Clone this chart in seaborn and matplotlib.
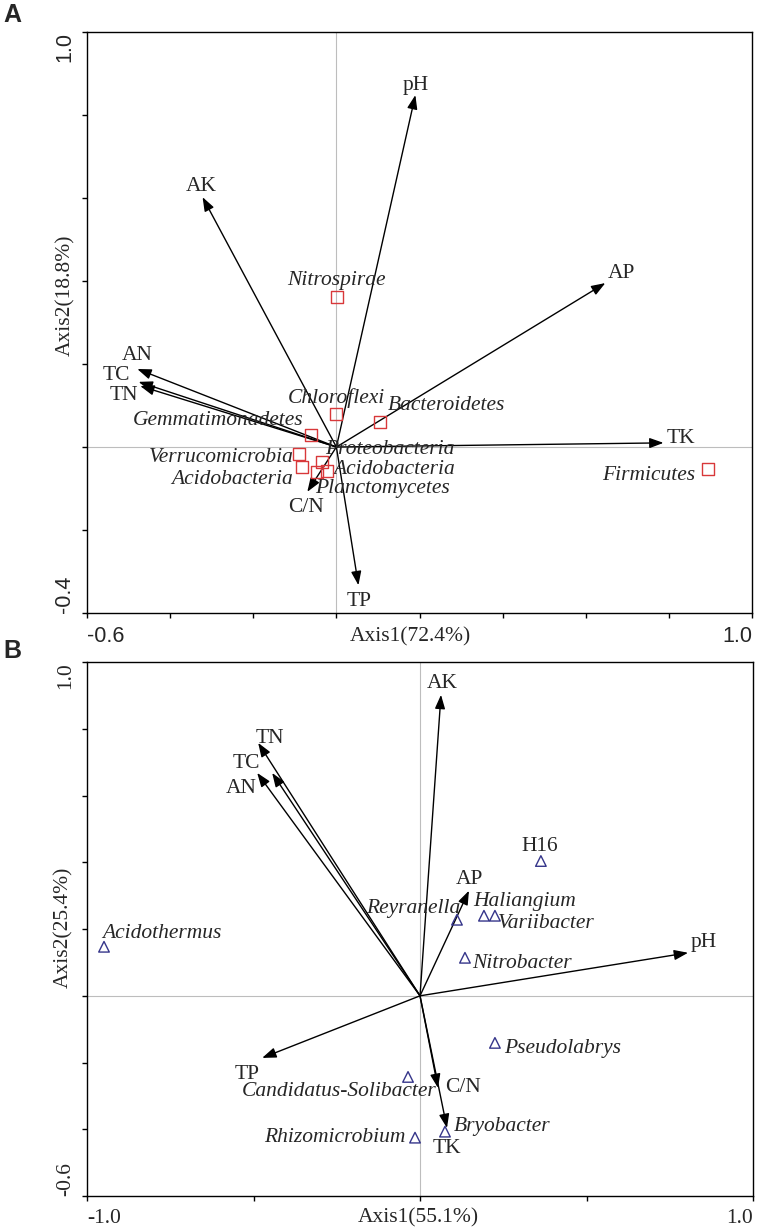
import matplotlib
matplotlib.use('Agg')
import matplotlib.pyplot as plt
import seaborn as sns
import pandas as pd

# ---------------- Panel A (phylum level) ----------------
a_env = ['pH', 'AK', 'AP', 'TK', 'AN', 'TC', 'TN', 'C/N', 'TP']
a_env_x = [0.190, -0.322, 0.647, 0.787, -0.479, -0.476, -0.472, -0.070, 0.053]
a_env_y = [0.848, 0.602, 0.395, 0.010, 0.188, 0.157, 0.147, -0.108, -0.333]

a_taxa = ['Nitrospirae', 'Chloroflexi', 'Bacteroidetes', 'Gemmatimonadetes',
          'Verrucomicrobia', 'Acidobacteria', 'Proteobacteria', 'Acidobacteria',
          'Planctomycetes', 'Firmicutes']
a_taxa_x = [0.002, 0.000, 0.106, -0.060, -0.089, -0.082, -0.034, -0.022, -0.046, 0.893]
a_taxa_y = [0.361, 0.080, 0.060, 0.029, -0.017, -0.048, -0.036, -0.058, -0.060, -0.053]

# ---------------- Panel B (genus level) ----------------
b_env = ['AK', 'TN', 'TC', 'AN', 'AP', 'pH', 'C/N', 'TK', 'TP']
b_env_x = [0.063, -0.486, -0.444, -0.489, 0.147, 0.805, 0.054, 0.081, -0.474]
b_env_y = [0.902, 0.758, 0.668, 0.668, 0.315, 0.129, -0.276, -0.396, -0.186]

b_taxa = ['H16', 'Reyranella', 'Haliangium', 'Variibacter', 'Nitrobacter',
          'Pseudolabrys', 'Candidatus-Solibacter', 'Rhizomicrobium', 'Bryobacter',
          'Acidothermus']
b_taxa_x = [0.363, 0.111, 0.192, 0.225, 0.135, 0.225, -0.036, -0.015, 0.075, -0.949]
b_taxa_y = [0.404, 0.228, 0.240, 0.240, 0.114, -0.141, -0.243, -0.425, -0.407, 0.147]

# label placement (pixel offsets from the point, horizontal alignment)
a_env_lab = [(0, 5, 'center'), (-1, 6, 'center'), (2, 5, 'left'), (3, 0, 'left'),
             (0, 9, 'center'), (-8, 2, 'right'), (-2, -14, 'right'),
             (-1, -20, 'center'), (1, -21, 'center')]
a_taxa_lab = [(-1, 12, 'center'), (0, 11, 'center'), (7, 12, 'left'), (-8, 10, 'right'),
              (-6, -8, 'right'), (-9, -17, 'right'), (3, 8, 'left'), (6, -3, 'left'),
              (-2, -21, 'left'), (-12, -11, 'right')]
b_env_lab = [(1, 7, 'center'), (-3, 0, 'left'), (-12, 5, 'right'), (-1, -20, 'right'),
             (1, 7, 'center'), (3, 6, 'left'), (7, -4, 'left'), (0, -25, 'center'),
             (-15, -21, 'center')]
b_taxa_lab = [(-1, 10, 'center'), (3, 7, 'right'), (-11, 10, 'left'), (3, -12, 'left'),
              (7, -10, 'left'), (9, -10, 'left'), (29, -19, 'right'), (-10, -4, 'right'),
              (9, 1, 'left'), (-2, 9, 'left')]
upright = {'H16'}  # not a genus name, set in roman

sns.set_style('white')
plt.rcParams['font.family'] = ['Liberation Serif', 'DejaVu Serif']
SANS = ['Liberation Sans', 'DejaVu Sans']
FS = 15.5


def draw_panel(ax, env, ex, ey, env_lab, taxa, tx, ty, taxa_lab,
               marker, mcolor, msize, xlim, ylim, xstep, ystep, xlab, ylab,
               tick_family, xlab_pos, ylab_pos):
    ax.axhline(0, color='#bdbdbd', lw=0.8, zorder=0)
    ax.axvline(0, color='#bdbdbd', lw=0.8, zorder=0)

    for name, x, y, (dx, dy, ha) in zip(env, ex, ey, env_lab):
        ax.annotate('', xy=(x, y), xytext=(0, 0),
                    arrowprops=dict(arrowstyle='-|>,head_length=0.6,head_width=0.22',
                                    mutation_scale=14, lw=1.0, color='black',
                                    shrinkA=0, shrinkB=0), zorder=3)
        ax.annotate(name, xy=(x, y), xytext=(dx, dy), textcoords='offset pixels',
                    ha=ha, va='baseline', fontsize=FS, zorder=4)

    df = pd.DataFrame({'x': tx, 'y': ty, 'taxon': taxa})
    sns.scatterplot(data=df, x='x', y='y', ax=ax, marker=marker, s=msize,
                    facecolor='none', edgecolor=mcolor, linewidth=1.0, zorder=5)
    for name, x, y, (dx, dy, ha) in zip(taxa, tx, ty, taxa_lab):
        style = 'normal' if name in upright else 'italic'
        ax.annotate(name, xy=(x, y), xytext=(dx, dy), textcoords='offset pixels',
                    ha=ha, va='baseline', fontsize=FS, fontstyle=style, zorder=4)

    ax.set_xlim(*xlim)
    ax.set_ylim(*ylim)
    nx = int(round((xlim[1] - xlim[0]) / xstep))
    ny = int(round((ylim[1] - ylim[0]) / ystep))
    xt = [xlim[0] + i * xstep for i in range(nx + 1)]
    yt = [ylim[0] + i * ystep for i in range(ny + 1)]
    ax.set_xticks(xt)
    ax.set_yticks(yt)
    ax.set_xticklabels([f'{xlim[0]:.1f}'] + [''] * (nx - 1) + [f'{xlim[1]:.1f}'],
                       family=tick_family, fontsize=FS)
    ax.set_yticklabels([f'{ylim[0]:.1f}'] + [''] * (ny - 1) + [f'{ylim[1]:.1f}'],
                       family=tick_family, fontsize=FS, rotation=90)
    xl = ax.get_xticklabels()
    xl[0].set_ha('left')
    xl[-1].set_ha('right')
    yl = ax.get_yticklabels()
    yl[0].set_va('bottom')
    yl[-1].set_va('top')
    ax.tick_params(axis='both', direction='out', length=3.6, width=1.0,
                   bottom=True, left=True, top=False, right=False, color='black')
    ax.tick_params(axis='x', pad=6)
    ax.tick_params(axis='y', pad=5)
    for sp in ax.spines.values():
        sp.set_visible(True)
        sp.set_color('black')
        sp.set_linewidth(1.0)

    ax.set_xlabel(xlab, fontsize=FS)
    ax.set_ylabel(ylab, fontsize=FS)
    ax.xaxis.set_label_coords(*xlab_pos)
    ax.yaxis.set_label_coords(*ylab_pos)


fig = plt.figure(figsize=(7.62, 12.30), dpi=100)
ax_a = fig.add_axes([0.1142, 0.5016, 0.8727, 0.4724])
ax_b = fig.add_axes([0.1142, 0.0276, 0.8740, 0.4341])

draw_panel(ax_a, a_env, a_env_x, a_env_y, a_env_lab,
           a_taxa, a_taxa_x, a_taxa_y, a_taxa_lab,
           's', '#d8383a', 74, (-0.6, 1.0), (-0.4, 1.0), 0.2, 0.2,
           'Axis1(72.4%)', 'Axis2(18.8%)', SANS, (0.486, -0.024), (-0.018, 0.547))

draw_panel(ax_b, b_env, b_env_x, b_env_y, b_env_lab,
           b_taxa, b_taxa_x, b_taxa_y, b_taxa_lab,
           '^', '#35358a', 58, (-1.0, 1.0), (-0.6, 1.0), 0.5, 0.2,
           'Axis1(55.1%)', 'Axis2(25.4%)', ['Liberation Serif'], (0.497, -0.0225), (-0.021, 0.504))

fig.text(3 / 762, 0.982, 'A', family=SANS, fontweight='bold', fontsize=18, va='baseline')
fig.text(3 / 762, 0.465, 'B', family=SANS, fontweight='bold', fontsize=18, va='baseline')

fig.savefig('out.png', dpi=100)
